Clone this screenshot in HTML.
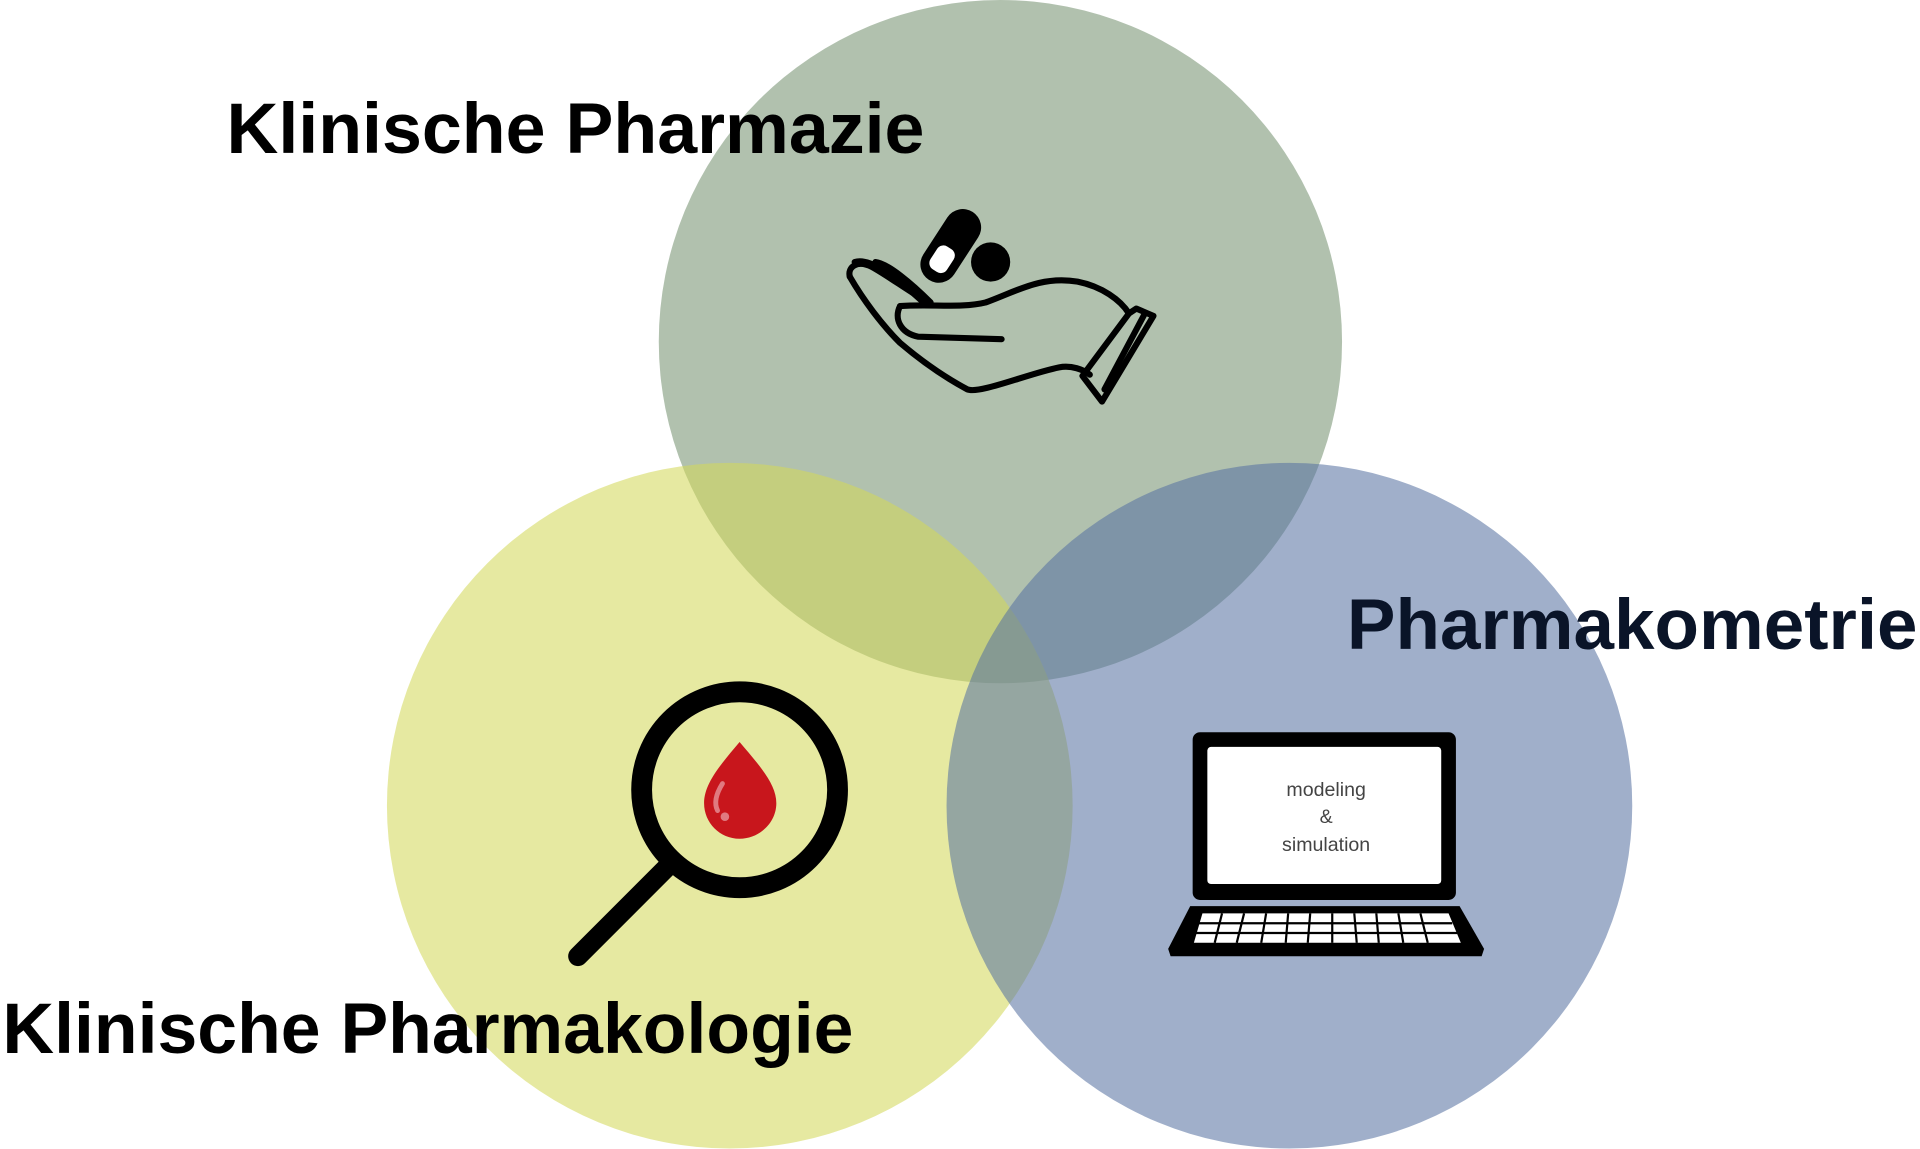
<!DOCTYPE html>
<html><head><meta charset="utf-8"><style>
html,body{margin:0;padding:0;background:#fff;}
svg{display:block;}
</style></head><body>
<svg width="1920" height="1149" viewBox="0 0 1568 938.4" preserveAspectRatio="none" xmlns="http://www.w3.org/2000/svg">
<rect width="1568" height="938.4" fill="#fff"/>
<circle cx="817" cy="279" r="279" fill="rgb(118,146,113)" fill-opacity="0.57"/>
<circle cx="596" cy="658" r="280" fill="rgb(211,216,90)" fill-opacity="0.57"/>
<circle cx="1053" cy="658" r="280" fill="rgb(88,115,162)" fill-opacity="0.57"/>

<g font-family="Liberation Sans, Arial, sans-serif" font-weight="bold" fill="#000">
<text x="185" y="125" font-size="58" textLength="570" lengthAdjust="spacingAndGlyphs">Klinische Pharmazie</text>
<text x="1100" y="530" font-size="58" textLength="466" lengthAdjust="spacingAndGlyphs" fill="#0a1428">Pharmakometrie</text>
<text x="2" y="860" font-size="58" textLength="695" lengthAdjust="spacingAndGlyphs">Klinische Pharmakologie</text>
</g>

<!-- hand with pills -->
<g fill="none" stroke="#000" stroke-width="5" stroke-linejoin="round" stroke-linecap="round">
<path d="M694 226 C705 245 720 265 735 280 C755 297 775 310 790 318 C800 322 840 305 865 300 C875 298 885 302 890 306"/>
<path d="M694 226 C692 218 700 212 712 218 C725 225 745 240 760 248"/>
<path d="M698 214 C710 210 730 225 752 245"/>
<path d="M715 214 C725 215 745 232 760 247"/>
<path d="M735 250 C730 260 735 272 750 275 L818 277"/>
<path d="M735 250 C760 248 785 252 805 247 C830 238 850 225 880 230 C900 234 915 245 922 256"/>
<path d="M922 256 L884 307 L900 328 L942 258 L928 252 Z"/>
<path d="M935 256 L902 318"/>
</g>
<g transform="rotate(33 777 200)">
<rect x="762" y="168" width="30" height="66" rx="15" fill="#000"/>
<rect x="769" y="203" width="16" height="22" rx="6" fill="#fff"/>
</g>
<circle cx="809" cy="214" r="16" fill="#000"/>

<!-- magnifier -->
<line x1="548" y1="705" x2="472" y2="781" stroke="#000" stroke-width="16" stroke-linecap="round"/>
<circle cx="604" cy="645" r="80" fill="none" stroke="#000" stroke-width="17"/>
<path d="M604 606 C620 625 634 640 634 656 C634 672 620 685 604 685 C588 685 575 672 575 656 C575 640 588 625 604 606 Z" fill="#c8161c"/>
<path d="M590 640 C585 648 583 656 586 662" stroke="#e07a80" stroke-width="4" fill="none" stroke-linecap="round"/>
<circle cx="592" cy="667" r="3.5" fill="#e07a80"/>

<!-- laptop -->
<rect x="974" y="598" width="215" height="137" rx="6" fill="#000"/>
<rect x="986" y="610" width="191" height="112" rx="3" fill="#fff"/>
<g font-family="Liberation Sans, Arial, sans-serif" font-size="16" fill="#444" text-anchor="middle">
<text x="1083" y="650">modeling</text>
<text x="1083" y="672">&amp;</text>
<text x="1083" y="695">simulation</text>
</g>
<path d="M972 740 L1192 740 L1212 775 L1210 781 L956 781 L954 775 Z" fill="#000"/>
<path d="M982 746 L1183 746 L1193 770 L975 770 Z" fill="#fff"/>
<g stroke="#000" stroke-width="1.8">
<line x1="979" y1="754" x2="1186" y2="754"/>
<line x1="977" y1="762" x2="1190" y2="762"/>
<line x1="998" y1="746" x2="992" y2="770"/>
<line x1="1016" y1="746" x2="1010" y2="770"/>
<line x1="1034" y1="746" x2="1030" y2="770"/>
<line x1="1052" y1="746" x2="1050" y2="770"/>
<line x1="1070" y1="746" x2="1068" y2="770"/>
<line x1="1088" y1="746" x2="1088" y2="770"/>
<line x1="1106" y1="746" x2="1108" y2="770"/>
<line x1="1124" y1="746" x2="1126" y2="770"/>
<line x1="1142" y1="746" x2="1146" y2="770"/>
<line x1="1160" y1="746" x2="1166" y2="770"/>
</g>
</svg>
</body></html>
